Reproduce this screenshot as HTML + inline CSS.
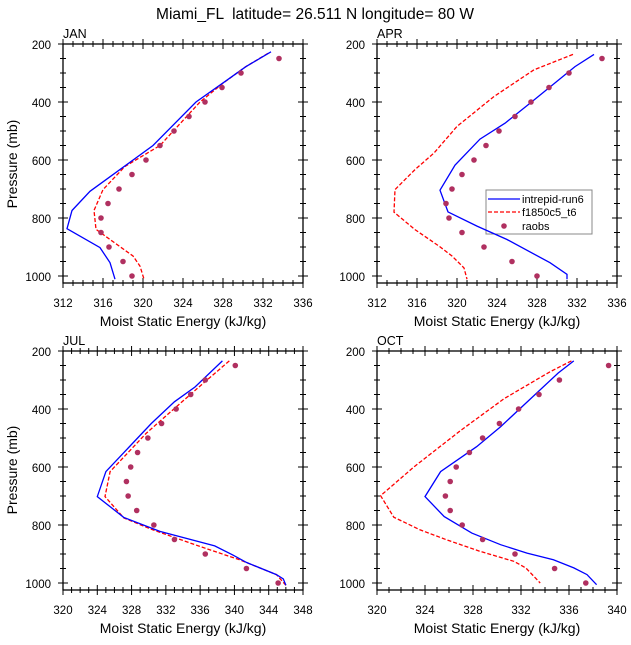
<!DOCTYPE html>
<html><head><meta charset="utf-8"><style>
html,body{margin:0;padding:0;background:#fff}
svg text{font-family:"Liberation Sans",sans-serif;fill:#000}
</style></head><body>
<svg id="s" width="631" height="640" viewBox="0 0 631 640" xmlns="http://www.w3.org/2000/svg">
<text x="315" y="19" font-size="15.5" text-anchor="middle" xml:space="preserve">Miami_FL  latitude= 26.511 N longitude= 80 W</text>
<text x="63" y="38" font-size="12.5">JAN</text>
<text x="377" y="38" font-size="12.5">APR</text>
<text x="63" y="345" font-size="12.5">JUL</text>
<text x="377" y="345" font-size="12.5">OCT</text>
<text x="183" y="326" font-size="14" text-anchor="middle">Moist Static Energy (kJ/kg)</text>
<text x="497" y="326" font-size="14" text-anchor="middle">Moist Static Energy (kJ/kg)</text>
<text x="183" y="633" font-size="14" text-anchor="middle">Moist Static Energy (kJ/kg)</text>
<text x="497" y="633" font-size="14" text-anchor="middle">Moist Static Energy (kJ/kg)</text>
<text transform="translate(17,164) rotate(-90)" font-size="14" text-anchor="middle">Pressure (mb)</text>
<text transform="translate(17,470) rotate(-90)" font-size="14" text-anchor="middle">Pressure (mb)</text>
<g font-size="11.5" text-anchor="end">
<text x="51" y="49">200</text><text x="51" y="107">400</text><text x="51" y="165">600</text><text x="51" y="223">800</text><text x="51" y="281">1000</text>
<text x="365" y="49">200</text><text x="365" y="107">400</text><text x="365" y="165">600</text><text x="365" y="223">800</text><text x="365" y="281">1000</text>
<text x="51" y="356">200</text><text x="51" y="414">400</text><text x="51" y="472">600</text><text x="51" y="530">800</text><text x="51" y="588">1000</text>
<text x="365" y="356">200</text><text x="365" y="414">400</text><text x="365" y="472">600</text><text x="365" y="530">800</text><text x="365" y="588">1000</text>
</g>
<g font-size="11.5" text-anchor="middle">
<text x="63" y="307">312</text><text x="103" y="307">316</text><text x="143" y="307">320</text><text x="183" y="307">324</text><text x="223" y="307">328</text><text x="263" y="307">332</text><text x="303" y="307">336</text>
<text x="377" y="307">312</text><text x="417" y="307">316</text><text x="457" y="307">320</text><text x="497" y="307">324</text><text x="537" y="307">328</text><text x="577" y="307">332</text><text x="617" y="307">336</text>
<text x="63" y="614">320</text><text x="97.3" y="614">324</text><text x="131.6" y="614">328</text><text x="165.9" y="614">332</text><text x="200.1" y="614">336</text><text x="234.4" y="614">340</text><text x="268.7" y="614">344</text><text x="303" y="614">348</text>
<text x="377" y="614">320</text><text x="425" y="614">324</text><text x="473" y="614">328</text><text x="521" y="614">332</text><text x="569" y="614">336</text><text x="617" y="614">340</text>
</g>
<rect x="486" y="190" width="106" height="44" fill="#fff" stroke="#888" stroke-width="1"/>
<line x1="488" y1="199" x2="520" y2="199" stroke="#0000ff" stroke-width="1.3"/>
<line x1="488" y1="212" x2="520" y2="212" stroke="#ff0000" stroke-width="1.3" stroke-dasharray="4,2"/>
<circle cx="504" cy="226" r="2.8" fill="#b03060"/>
<g font-size="11"><text x="522" y="203">intrepid-run6</text><text x="522" y="216">f1850c5_t6</text><text x="522" y="230">raobs</text></g>
<g id="dyn"></g>
</svg>
<script>
var NS="http://www.w3.org/2000/svg",g=document.getElementById("dyn");
function el(t,a){var e=document.createElementNS(NS,t);for(var k in a)e.setAttribute(k,a[k]);g.appendChild(e);return e;}
var P=[
{x:63,y:44,x0:312,x1:336,mi:1,
b:[[332.8,227],[330.3,278],[328.3,327],[325.3,400],[321,550],[314.7,708],[312.9,774],[312.4,837],[315.7,902],[316.7,954],[317.2,1011]],
r:[[332.5,232],[330.2,280],[328,335],[325.7,400],[321.7,550],[318.2,622],[316,702],[315.1,774],[315.3,839],[316.7,874],[319,931],[319.7,966],[320.1,1011]],
d:[333.6,329.8,327.9,326.2,324.6,323.1,321.7,320.3,318.9,317.6,316.5,315.8,315.8,316.6,318,318.9]},
{x:377,y:44,x0:312,x1:336,mi:1,
b:[[333.7,236],[331.8,278],[327.3,404],[324.8,473],[322.3,528],[319.8,618],[318.3,704],[319.1,779],[322,828],[325,874],[329.3,954],[331,994],[331,1011]],
r:[[331.6,236],[327.7,289],[323.7,381],[320,484],[317.7,576],[315.8,633],[313.8,702],[313.7,780],[315.8,840],[318.2,897],[319.5,931],[320.7,972],[321,1011]],
d:[334.5,331.2,329.2,327.4,325.8,324.2,322.9,321.7,320.5,319.5,318.9,319.2,320.5,322.7,325.5,328]},
{x:63,y:351,x0:320,x1:348,mi:1,
b:[[338.6,234],[335.4,324],[333,375],[330.3,450],[325,616],[324,702],[327.1,774],[331.3,822],[337.7,872],[339.8,903],[341.4,929],[344.9,971],[345.7,986],[346,1008]],
r:[[339.4,234],[336.1,318],[333.2,393],[329.7,484],[325.5,616],[324.9,702],[327.1,776],[330.5,817],[336,874],[340.6,920],[344.9,971],[346,1008]],
d:[340.1,336.6,334.9,333.2,331.5,329.9,328.7,327.9,327.4,327.6,328.6,330.6,333,336.6,341.4,345.1]},
{x:377,y:351,x0:320,x1:340,mi:1,
b:[[336.4,234],[335.1,276],[330.3,461],[328.3,530],[325.3,616],[324,702],[325.6,771],[327.9,828],[330.3,868],[332.5,897],[334.7,920],[336.4,948],[337.5,971],[338.3,1006]],
r:[[336.2,234],[334.4,272],[330.6,364],[327,473],[323.1,599],[320.3,699],[321.4,773],[323.6,817],[325.8,851],[328.6,891],[331.4,925],[332.4,948],[333.6,1000]],
d:[339.3,335.2,333.5,331.8,330.2,328.8,327.7,326.6,326.1,325.7,326.1,327.1,328.8,331.5,334.8,337.4]}];
P.forEach(function(p){
 var W=240,H=239,k=232/800;
 function X(v){return p.x+(v-p.x0)/(p.x1-p.x0)*W;}
 function Y(v){return p.y+(v-200)*k;}
 el("rect",{x:p.x,y:p.y,width:W,height:H,fill:"none",stroke:"#000","stroke-width":1.3});
 for(var v=p.x0;v<=p.x1;v+=1){var xx=X(v),maj=((v-p.x0)%4==0),L=maj?5:3;
  el("line",{x1:xx,y1:p.y+H-L,x2:xx,y2:p.y+H+L,stroke:"#000","stroke-width":1});
  el("line",{x1:xx,y1:p.y-L,x2:xx,y2:p.y+L,stroke:"#000","stroke-width":1});}
 for(var q=200;q<=1000;q+=50){var yy=Y(q),maj=(q%200==0),L=maj?5:3;
  el("line",{x1:p.x-L,y1:yy,x2:p.x+L,y2:yy,stroke:"#000","stroke-width":1});
  el("line",{x1:p.x+W-L,y1:yy,x2:p.x+W+L,y2:yy,stroke:"#000","stroke-width":1});}
 function path(a){return a.map(function(t){return X(t[0]).toFixed(1)+","+Y(t[1]).toFixed(1);}).join(" ");}
 el("polyline",{points:path(p.r),fill:"none",stroke:"#ff0000","stroke-width":1.3,"stroke-dasharray":"4,2"});
 el("polyline",{points:path(p.b),fill:"none",stroke:"#0000ff","stroke-width":1.3});
 p.d.forEach(function(v,i){el("circle",{cx:X(v),cy:Y(250+50*i),r:2.8,fill:"#b03060"});});
});
</script>
</body></html>
